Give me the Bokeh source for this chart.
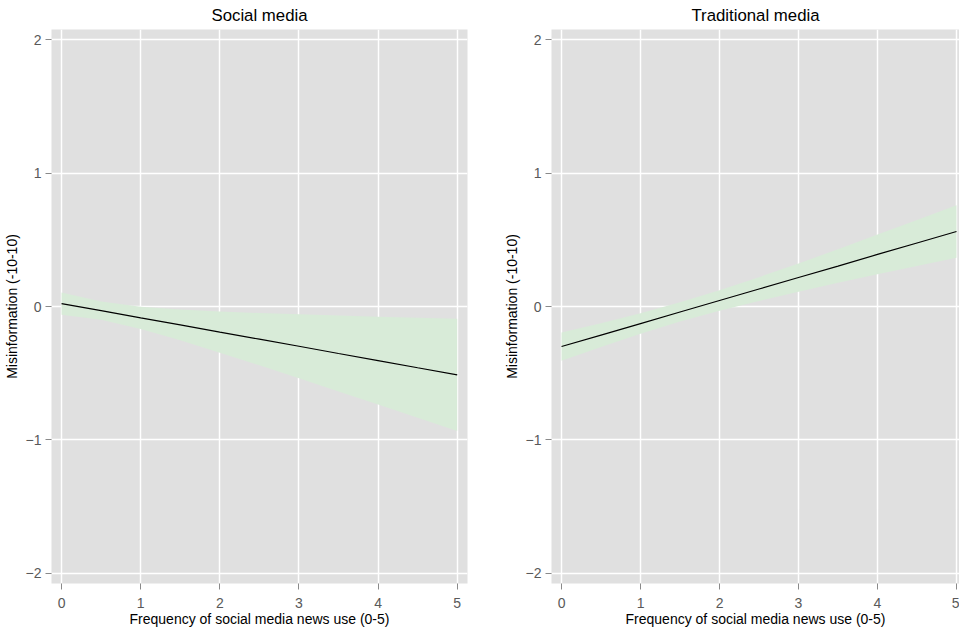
from bokeh.plotting import figure
from bokeh.layouts import row
from bokeh.models import Range1d, FixedTicker
from bokeh.embed import file_html
from bokeh.resources import INLINE

# x positions (frequency of social media news use)
x_vals = [0, 0.5, 1, 1.5, 2, 2.5, 3, 3.5, 4, 4.5, 5]

# Social media panel
social_fit = [0.022, -0.031, -0.085, -0.138, -0.192, -0.245, -0.298, -0.352, -0.405, -0.459, -0.512]
social_upper = [0.105, 0.038, -0.002, -0.023, -0.038, -0.049, -0.058, -0.068, -0.076, -0.085, -0.092]
social_lower = [-0.061, -0.100, -0.168, -0.253, -0.346, -0.441, -0.538, -0.636, -0.734, -0.833, -0.932]

# Traditional media panel
trad_fit = [-0.300, -0.214, -0.128, -0.041, 0.045, 0.131, 0.217, 0.303, 0.390, 0.476, 0.562]
trad_upper = [-0.194, -0.125, -0.051, 0.031, 0.122, 0.220, 0.323, 0.429, 0.539, 0.648, 0.758]
trad_lower = [-0.406, -0.303, -0.205, -0.113, -0.032, 0.042, 0.111, 0.177, 0.241, 0.304, 0.366]

titles = ["Social media", "Traditional media"]
x_ticks = [0, 1, 2, 3, 4, 5]
y_ticks = [-2, -1, 0, 1, 2]
x_label = "Frequency of social media news use (0-5)"
y_label = "Misinformation (-10-10)"

FONT = "Liberation Sans"
BG = "#e0e0e0"
BAND = "#d8ebd8"


def make_panel(title, fit, upper, lower, frame_w, border_left, border_right, x_end):
    p = figure(frame_width=frame_w, frame_height=554, output_backend="svg", toolbar_location=None,
               x_range=Range1d(-0.127, x_end), y_range=Range1d(-2.075, 2.075),
               min_border_left=border_left, min_border_right=border_right,
               min_border_top=28, min_border_bottom=44,
               background_fill_color=BG, border_fill_color="white",
               outline_line_color=None, title=title)
    p.title.align = "center"
    p.title.vertical_align = "middle"
    p.title.text_font = FONT
    p.title.text_font_size = "16.8px"
    p.title.text_font_style = "normal"
    p.title.text_color = "black"
    p.title.standoff = 8
    p.title.offset = 0

    p.varea(x=x_vals, y1=lower, y2=upper, fill_color=BAND, fill_alpha=1.0)
    p.line(x=x_vals, y=fit, line_color="black", line_width=1.2)

    p.grid.grid_line_color = "white"
    p.grid.grid_line_width = 1.5
    p.grid.level = "image"

    p.xaxis.ticker = FixedTicker(ticks=x_ticks)
    p.yaxis.ticker = FixedTicker(ticks=y_ticks)
    p.xaxis.axis_label = x_label
    p.yaxis.axis_label = y_label
    for ax in (p.xaxis, p.yaxis):
        ax.axis_line_color = None
        ax.major_tick_line_color = "#8a8a8a"
        ax.major_tick_in = 0
        ax.major_tick_out = 6
        ax.minor_tick_line_color = None
        ax.major_label_text_font = FONT
        ax.major_label_text_font_size = "14px"
        ax.major_label_text_color = "#595959"
        ax.axis_label_text_font = FONT
        ax.axis_label_text_font_size = "14px"
        ax.axis_label_text_font_style = "normal"
        ax.axis_label_text_color = "black"
    p.xaxis.major_label_standoff = 8
    p.xaxis.axis_label_standoff = 0
    p.yaxis.major_label_standoff = 4
    p.yaxis.axis_label_standoff = 3
    p.yaxis.major_label_orientation = "horizontal"
    return p


p1 = make_panel(titles[0], social_fit, social_upper, social_lower, 416, 43, 33, 5.13)
p2 = make_panel(titles[1], trad_fit, trad_upper, trad_lower, 408, 50, 0, 5.038)

layout = row(p1, p2)
open("out.html", "w").write(file_html(layout, INLINE))
